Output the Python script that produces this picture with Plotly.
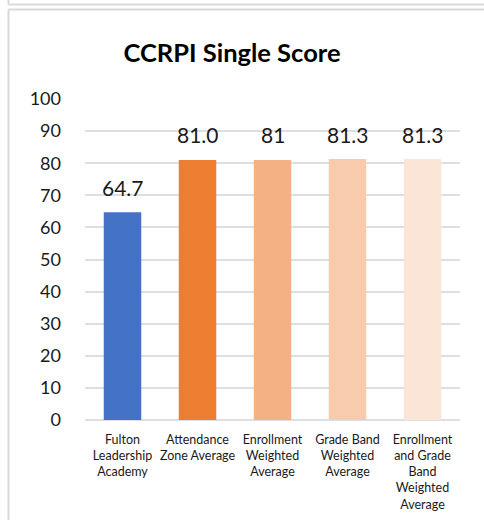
import plotly.graph_objects as go

categories = [
    "Fulton<br>Leadership<br>Academy",
    "Attendance<br>Zone Average",
    "Enrollment<br>Weighted<br>Average",
    "Grade Band<br>Weighted<br>Average",
    "Enrollment<br>and Grade<br>Band<br>Weighted<br>Average",
]
values = [64.7, 81.0, 81.0, 81.3, 81.3]
value_labels = ["64.7", "81.0", "81", "81.3", "81.3"]
bar_colors = ["#4472C4", "#ED7D31", "#F4B183", "#F8CBAD", "#FBE5D6"]
y_ticks = [0, 10, 20, 30, 40, 50, 60, 70, 80, 90, 100]

W, H = 484, 520
L, R, T, B = 85, 24, 99, 100
pw, ph = W - L - R, H - T - B

def px(x):
    return (x - L) / pw

def py(y):
    return (H - B - y) / ph

FONT = "Lato, Carlito, Calibri, sans-serif"

fig = go.Figure()
fig.add_trace(go.Bar(
    x=categories, y=values,
    marker=dict(color=bar_colors, line=dict(width=0)),
    width=0.5,
    hoverinfo="skip",
))

for c, v, t in zip(categories, values, value_labels):
    fig.add_annotation(x=c, y=v, text=t, showarrow=False, yanchor="middle",
                       yshift=25, font=dict(family=FONT, size=21, color="#1a1a1a"))

frame = "#D9D9D9"
shapes = [
    dict(type="line", xref="paper", yref="paper", x0=px(8.5), x1=px(8.5), y0=py(0), y1=py(4.5),
         line=dict(color=frame, width=2)),
    dict(type="line", xref="paper", yref="paper", x0=px(8.5), x1=px(490), y0=py(4.5), y1=py(4.5),
         line=dict(color=frame, width=2)),
    dict(type="line", xref="paper", yref="paper", x0=px(8.5), x1=px(490), y0=py(9.5), y1=py(9.5),
         line=dict(color=frame, width=2)),
    dict(type="line", xref="paper", yref="paper", x0=px(8.5), x1=px(8.5), y0=py(9.5), y1=py(525),
         line=dict(color=frame, width=2)),
]

fig.update_layout(
    width=W, height=H,
    margin=dict(l=L, r=R, t=T, b=B, autoexpand=False),
    paper_bgcolor="white", plot_bgcolor="white",
    showlegend=False,
    shapes=shapes,
    title=dict(text="<b>CCRPI Single Score</b>", x=232 / W, xanchor="center",
               y=1 - 53 / H, yanchor="middle",
               font=dict(family=FONT, size=25.5, color="#000")),
    font=dict(family=FONT, color="#1a1a1a"),
    bargap=0.5,
)
fig.update_yaxes(range=[0, 100], tickvals=y_ticks, showgrid=True, gridcolor="#DCE0E5",
                 gridwidth=1.5, zeroline=True, zerolinecolor="#DCE0E5", zerolinewidth=1.5,
                 showline=False, ticks="", ticklabelstandoff=23,
                 tickfont=dict(family=FONT, size=18, color="#1a1a1a"), fixedrange=True)
fig.update_xaxes(showgrid=False, showline=False, ticks="", tickangle=0, ticklabelstandoff=10,
                 tickfont=dict(family=FONT, size=12.5, color="#1a1a1a"), fixedrange=True)

fig.write_html("out.html", config={"displayModeBar": False},
               post_script="document.body.style.margin='0';document.body.style.overflow='hidden';")
